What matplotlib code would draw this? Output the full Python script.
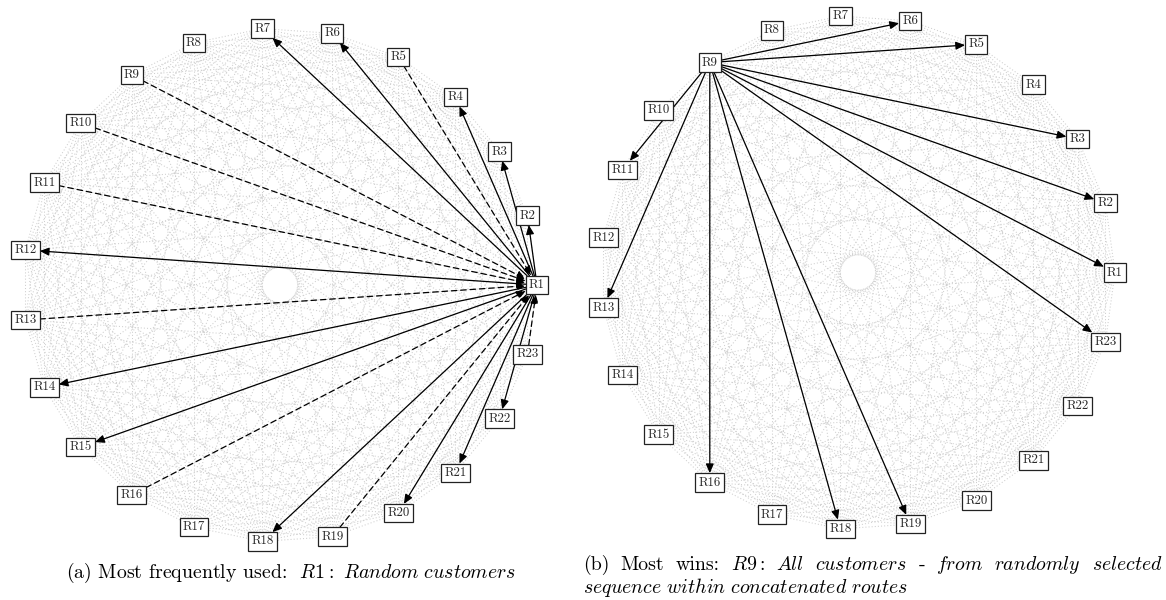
import numpy as np
import matplotlib
matplotlib.use("Agg")
import matplotlib.pyplot as plt
from matplotlib.collections import LineCollection
from matplotlib.patches import FancyArrowPatch

plt.rcParams['mathtext.fontset'] = 'cm'
plt.rcParams['axes.unicode_minus'] = False

# ---- data ----
node_labels = ["R1", "R2", "R3", "R4", "R5", "R6", "R7", "R8", "R9", "R10", "R11", "R12",
               "R13", "R14", "R15", "R16", "R17", "R18", "R19", "R20", "R21", "R22", "R23"]

# panel (a): hub R1
left_hub = "R1"
left_out = ["R2", "R3", "R4", "R6", "R7", "R12", "R14", "R15", "R18", "R20", "R21", "R22"]  # solid, R1 -> node
left_in = ["R5", "R9", "R10", "R11", "R13", "R16", "R19", "R23"]                           # dashed, node -> R1

# panel (b): hub R9
right_hub = "R9"
right_out = ["R6", "R5", "R3", "R2", "R1", "R23", "R19", "R18", "R16", "R13", "R11"]

caption_a = r"(a) Most frequently used:  $\mathit{R1{:}\ Random\ customers}$"
caption_b1_words = ["(b)", "Most", "wins:", r"$\mathit{R9{:}}$", r"$\mathit{All}$", r"$\mathit{customers}$",
                    "-", r"$\mathit{from}$", r"$\mathit{randomly}$", r"$\mathit{selected}$"]
caption_b2 = r"$\mathit{sequence\ within\ concatenated\ routes}$"

# ---- figure ----
W, H = 1166, 600
fig = plt.figure(figsize=(W / 100, H / 100), dpi=100)
ax = fig.add_axes([0, 0, 1, 1])
ax.set_xlim(0, W)
ax.set_ylim(H, 0)
ax.axis('off')

n = len(node_labels)
CAP_FS = 14.3


def circular_layout(cx, cy, r):
    ang = 2 * np.pi * np.arange(n) / n
    return {lab: (cx + r * np.cos(a), cy - r * np.sin(a)) for lab, a in zip(node_labels, ang)}


def draw_panel(pos):
    segs = []
    for i in range(n):
        for j in range(i + 1, n):
            segs.append([pos[node_labels[i]], pos[node_labels[j]]])
    lc = LineCollection(segs, colors='#cfcfcf', linewidths=0.75,
                        linestyles=[(0, (1.0, 2.0))], zorder=1)
    ax.add_collection(lc)
    texts = {}
    for lab in node_labels:
        x, y = pos[lab]
        t = ax.text(x, y, lab, ha='center', va='center', fontsize=9.3, family='cmr10',
                    color='#2a2a2a', zorder=5,
                    bbox=dict(boxstyle='square,pad=0.25', fc='white', ec='#222222', lw=0.9))
        texts[lab] = t
    return texts


def box_halfsizes(texts):
    fig.canvas.draw()
    r = fig.canvas.get_renderer()
    inv = ax.transData.inverted()
    hs = {}
    for lab, t in texts.items():
        bb = t.get_bbox_patch().get_window_extent(r)
        (x0, y0), (x1, y1) = inv.transform([[bb.x0, bb.y0], [bb.x1, bb.y1]])
        hs[lab] = (abs(x1 - x0) / 2, abs(y1 - y0) / 2)
    return hs


def clip(p, q, hw, hh):
    dx, dy = q[0] - p[0], q[1] - p[1]
    t = min(hw / abs(dx) if dx else np.inf, hh / abs(dy) if dy else np.inf)
    return (p[0] + dx * t, p[1] + dy * t)


def arrow(pos, hs, a, b, dashed=False):
    pa, pb = pos[a], pos[b]
    s = clip(pa, pb, *hs[a])
    e = clip(pb, pa, *hs[b])
    ls = (0, (4.5, 3.0)) if dashed else '-'
    ar = FancyArrowPatch(s, e, arrowstyle='-|>,head_length=0.55,head_width=0.24',
                         mutation_scale=10, color='black', lw=0.9, linestyle=ls,
                         shrinkA=0, shrinkB=0, zorder=3)
    ax.add_patch(ar)


pos_a = circular_layout(280, 285, 257)
pos_b = circular_layout(858, 272.5, 257)
texts_a = draw_panel(pos_a)
texts_b = draw_panel(pos_b)
hs_a = box_halfsizes(texts_a)
hs_b = box_halfsizes(texts_b)

for nd in left_out:
    arrow(pos_a, hs_a, left_hub, nd)
for nd in left_in:
    arrow(pos_a, hs_a, nd, left_hub, dashed=True)
for nd in right_out:
    arrow(pos_b, hs_b, right_hub, nd)

ax.text(291, 578, caption_a, ha='center', va='baseline', fontsize=CAP_FS, family='cmr10')

# justified first line of caption (b)
x0, x1, base1 = 583, 1163, 570
word_texts = [ax.text(0, base1, w, ha='left', va='baseline', fontsize=CAP_FS, family='cmr10')
              for w in caption_b1_words]
fig.canvas.draw()
rr = fig.canvas.get_renderer()
widths = [t.get_window_extent(rr).width for t in word_texts]
gap = (x1 - x0 - sum(widths)) / (len(widths) - 1)
x = x0
for t, w in zip(word_texts, widths):
    t.set_x(x)
    x += w + gap
ax.text(583, base1 + 23, caption_b2, ha='left', va='baseline', fontsize=CAP_FS, family='cmr10')

fig.savefig('out.png', dpi=100)
